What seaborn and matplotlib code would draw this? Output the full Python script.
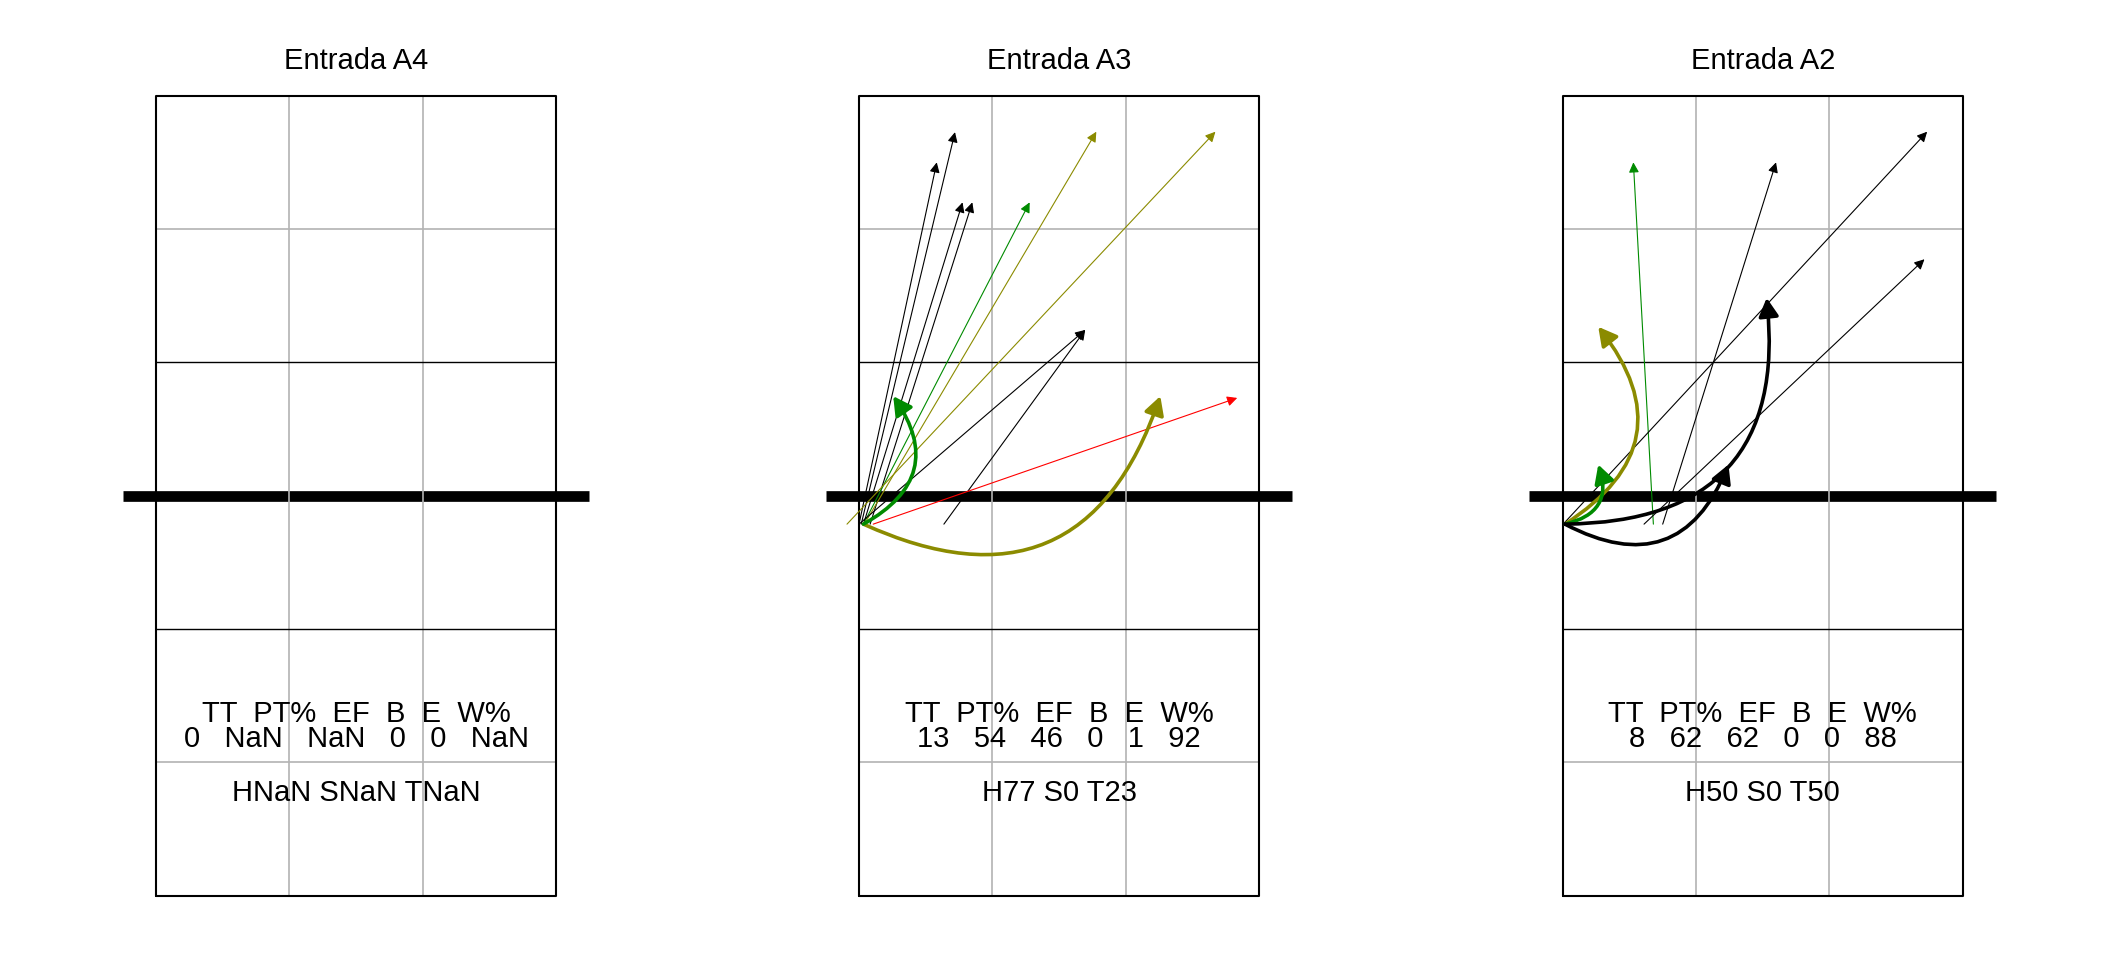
import matplotlib
matplotlib.use("Agg")
import matplotlib.pyplot as plt
import seaborn as sns

GREEN = "#008B00"
OLIVE = "#8B8B00"

# panel titles and stats text
titles = ["Entrada A4", "Entrada A3", "Entrada A2"]
stat_header = "TT  PT%  EF  B  E  W%"
stat_values = [
    ["0", "NaN", "NaN", "0", "0", "NaN"],
    ["13", "54", "46", "0", "1", "92"],
    ["8", "62", "62", "0", "0", "88"],
]
hst_values = [["NaN", "NaN", "NaN"], ["77", "0", "23"], ["50", "0", "50"]]

# Entrada A3 - thin arrows (start -> end, court metres)
a3_thin_x0 = [0.0, 0.05, 0.1, 0.25, 0.1, 0.12, -0.27, 0.0, 1.91, 0.32]
a3_thin_y0 = [8.36, 8.36, 8.36, 8.36, 8.36, 8.36, 8.36, 8.36, 8.36, 8.36]
a3_thin_x1 = [1.75, 2.16, 2.33, 2.55, 3.84, 5.34, 8.02, 5.09, 5.09, 8.51]
a3_thin_y1 = [16.5, 17.18, 15.6, 15.6, 15.6, 17.19, 17.19, 12.73, 12.73, 11.2]
a3_thin_col = ["black", "black", "black", "black", GREEN, OLIVE, OLIVE,
               "black", "black", "red"]

# Entrada A3 - thick curved arrows
a3_thick_x0 = [0.1, 0.1]
a3_thick_y0 = [8.36, 8.36]
a3_thick_x1 = [6.78, 0.77]
a3_thick_y1 = [11.24, 11.24]
a3_thick_col = [OLIVE, GREEN]

# Entrada A2 - thin arrows
a2_thin_x0 = [2.04, 2.25, 0.01, 1.83]
a2_thin_y0 = [8.36, 8.36, 8.36, 8.36]
a2_thin_x1 = [1.59, 4.80, 8.2, 8.14]
a2_thin_y1 = [16.5, 16.5, 17.19, 14.32]
a2_thin_col = [GREEN, "black", "black", "black"]

# Entrada A2 - thick curved arrows
a2_thick_x0 = [0.05, 0.05, 0.05, 0.05]
a2_thick_y0 = [8.36, 8.36, 8.36, 8.36]
a2_thick_x1 = [0.8, 0.8, 4.59, 3.73]
a2_thick_y1 = [12.8, 9.7, 13.45, 9.7]
a2_thick_col = [OLIVE, GREEN, "black", "black"]

thin_sets = [None,
             (a3_thin_x0, a3_thin_y0, a3_thin_x1, a3_thin_y1, a3_thin_col),
             (a2_thin_x0, a2_thin_y0, a2_thin_x1, a2_thin_y1, a2_thin_col)]
thick_sets = [None,
              (a3_thick_x0, a3_thick_y0, a3_thick_x1, a3_thick_y1, a3_thick_col),
              (a2_thick_x0, a2_thick_y0, a2_thick_x1, a2_thick_y1, a2_thick_col)]

sns.set_theme(style="white")
plt.rcParams["font.family"] = ["Liberation Sans", "DejaVu Sans"]
plt.rcParams["text.color"] = "black"

fig = plt.figure(figsize=(21.12, 9.6), dpi=100)
W, H = 2112, 960
lefts = [156, 859, 1562.7]

for i in range(3):
    ax = fig.add_axes([lefts[i] / W, (H - 895.7) / H, 400 / W, 800 / H])
    ax.set_xlim(0, 9)
    ax.set_ylim(0, 18)
    ax.set_axis_off()

    # court
    ax.plot([-0.75, 9.75], [9, 9], color="black", lw=7.7,
            solid_capstyle="butt", clip_on=False, zorder=1)
    for gx in [3, 6]:
        ax.plot([gx, gx], [0, 18], color="#B3B3B3", lw=1.2, zorder=2)
    for gy in [3, 15]:
        ax.plot([0, 9], [gy, gy], color="#B3B3B3", lw=1.2, zorder=2)
    for by in [6, 12]:
        ax.plot([0, 9], [by, by], color="black", lw=1.0, zorder=3)
    ax.plot([0, 9, 9, 0, 0], [0, 0, 18, 18, 0], color="black", lw=1.5,
            clip_on=False, zorder=3)

    # texts
    ax.text(4.5, 18.59, titles[i], ha="center", va="baseline", fontsize=21)
    ax.text(4.5, 3.90, stat_header, ha="center", va="baseline", fontsize=21)
    ax.text(4.5, 3.35, "   ".join(stat_values[i]), ha="center",
            va="baseline", fontsize=21)
    h, s, t = hst_values[i]
    ax.text(4.5, 2.12, f"H{h} S{s} T{t}", ha="center", va="baseline",
            fontsize=21)

    # thin straight arrows
    if thin_sets[i] is not None:
        x0, y0, x1, y1, col = thin_sets[i]
        for k in range(len(x0)):
            ax.annotate("", xy=(x1[k], y1[k]), xytext=(x0[k], y0[k]),
                        annotation_clip=False,
                        arrowprops=dict(arrowstyle="-|>,head_length=0.6,head_width=0.3",
                                        color=col[k], lw=0.8, mutation_scale=10,
                                        shrinkA=0, shrinkB=0), zorder=5)
    # thick curved arrows
    if thick_sets[i] is not None:
        x0, y0, x1, y1, col = thick_sets[i]
        for k in range(len(x0)):
            ax.annotate("", xy=(x1[k], y1[k]), xytext=(x0[k], y0[k]),
                        annotation_clip=False,
                        arrowprops=dict(arrowstyle="-|>,head_length=0.55,head_width=0.3",
                                        connectionstyle="arc3,rad=0.55",
                                        color=col[k], lw=2.6, mutation_scale=20,
                                        shrinkA=0, shrinkB=0), zorder=6)

fig.savefig("out.png", dpi=100, facecolor="white")
